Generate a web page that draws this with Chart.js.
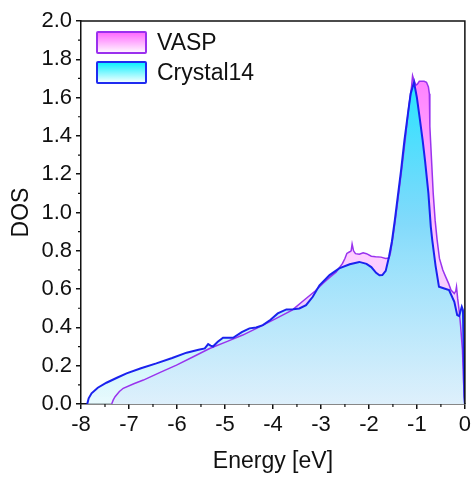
<!DOCTYPE html>
<html lang="en">
<head>
  <meta charset="UTF-8">
  <title>DOS VASP vs Crystal14</title>
  <script src="https://cdn.jsdelivr.net/npm/chart.js"></script>
  <style>
    body { margin: 0; background: #fff; }
    .wrap { position: relative; width: 474px; height: 477px; }
    .legend { position: absolute; left: 96px; top: 31px; font-family: "Liberation Sans", Arial, sans-serif; font-size: 23px; color: #111; }
    .legend .row { position: relative; height: 30px; line-height: 23px; }
    .legend .box { position: absolute; left: 0; top: 0; width: 47px; height: 19px; border: 2px solid; border-radius: 2px; }
    .legend .lbl { position: absolute; left: 61px; top: 0; white-space: nowrap; }
    .box.vasp { border-color: #9b30ee; background: linear-gradient(#ff6cff, #fff4ff); }
    .box.crys { border-color: #1f2bf0; background: linear-gradient(#10f0ff, #f2ffff); }
  </style>
</head>
<body>
  <div class="wrap">
    <canvas id="dosChart"></canvas>
    <!-- legend sits inside the plot, top left -->
    <div class="legend">
      <div class="row"><div class="box vasp"></div><span class="lbl">VASP</span></div>
      <div class="row"><div class="box crys"></div><span class="lbl">Crystal14</span></div>
    </div>
  </div>

  <script>
    // Crystal14 DOS
    const crysEnergy = [-7.87, -7.84, -7.78, -7.65, -7.47, -7.25, -7.05, -6.75, -6.43, -6.1, -5.8, -5.55, -5.42, -5.35, -5.3, -5.25,
      -5.15, -5.04, -4.83, -4.65, -4.49, -4.35, -4.21, -4.05, -3.9, -3.72, -3.58, -3.45, -3.31, -3.17, -3.03, -2.82, -2.62,
      -2.4, -2.2, -2.05, -1.95, -1.85, -1.78, -1.72, -1.65, -1.58, -1.52, -1.46, -1.4, -1.33, -1.26, -1.19, -1.13, -1.06,
      -1.0, -0.94, -0.88, -0.83, -0.76, -0.71, -0.68, -0.61, -0.54, -0.43, -0.33, -0.22, -0.16, -0.12, -0.065, -0.04,
      -0.02, -0.01, 0];
    const crysDos = [0, 0.03, 0.056, 0.085, 0.111, 0.137, 0.16, 0.187, 0.212, 0.24, 0.268, 0.283, 0.29, 0.313, 0.305, 0.3,
      0.325, 0.346, 0.346, 0.375, 0.395, 0.4, 0.412, 0.44, 0.473, 0.494, 0.495, 0.499, 0.516, 0.56, 0.62, 0.673, 0.708,
      0.73, 0.742, 0.732, 0.715, 0.685, 0.672, 0.673, 0.695, 0.77, 0.85, 0.96, 1.08, 1.22, 1.377, 1.51, 1.62, 1.68,
      1.6, 1.49, 1.377, 1.27, 1.1, 0.925, 0.856, 0.72, 0.612, 0.603, 0.595, 0.534, 0.464, 0.459, 0.508, 0.49,
      0.195, 0.04, 0];

    // VASP DOS
    const vaspEnergy = [-7.36, -7.33, -7.29, -7.2, -7.12, -6.9, -6.7, -6.35, -6.01, -5.65, -5.32, -4.95, -4.63, -4.3, -3.93,
      -3.6, -3.31, -3.12, -2.96, -2.8, -2.68, -2.55, -2.5, -2.46, -2.4, -2.37, -2.35, -2.32, -2.28, -2.2, -2.12, -2.05,
      -1.95, -1.86, -1.75, -1.65, -1.58, -1.55, -1.5, -1.44, -1.38, -1.31, -1.24, -1.17, -1.11, -1.09, -1.06, -1.02,
      -0.99, -0.95, -0.85, -0.8, -0.76, -0.74, -0.73, -0.71, -0.69, -0.66, -0.62, -0.58, -0.53, -0.46, -0.4, -0.34,
      -0.29, -0.22, -0.19, -0.175, -0.15, -0.12, -0.09, -0.05, -0.03, -0.01, 0];
    const vaspDos = [0, 0.02, 0.038, 0.065, 0.082, 0.106, 0.125, 0.165, 0.203, 0.248, 0.29, 0.327, 0.36, 0.4, 0.447,
      0.49, 0.551, 0.59, 0.63, 0.665, 0.69, 0.734, 0.76, 0.786, 0.795, 0.8, 0.835, 0.8, 0.785, 0.782, 0.79, 0.785,
      0.772, 0.769, 0.767, 0.76, 0.762, 0.79, 0.87, 0.98, 1.1, 1.24, 1.39, 1.55, 1.66, 1.715, 1.69, 1.665,
      1.67, 1.685, 1.685, 1.68, 1.655, 1.62, 1.45, 1.35, 1.25, 1.1, 0.96, 0.86, 0.76, 0.7, 0.664, 0.63,
      0.595, 0.577, 0.59, 0.612, 0.55, 0.49, 0.41, 0.28, 0.125, 0.03, 0];

    const seriesNames = ["Crystal14", "VASP"];
    const xMin = -8, xMax = 0, xStep = 1;
    const yMin = 0, yMax = 2, yStep = 0.2;

    const FONT = '"Liberation Sans", Arial, sans-serif';

    function toPoints(xs, ys) {
      return xs.map((x, i) => ({ x: x, y: ys[i] }));
    }

    // vertical gradient between a DOS value and zero, built on the y scale
    function vGradient(topVal, stops) {
      return function (ctx) {
        const chart = ctx.chart;
        if (!chart.chartArea) return null;
        const y = chart.scales.y;
        const g = chart.ctx.createLinearGradient(0, y.getPixelForValue(topVal), 0, y.getPixelForValue(0));
        stops.forEach(s => g.addColorStop(s[0], s[1]));
        return g;
      };
    }

    // box frame + minor ticks
    const framePlugin = {
      id: "frame",
      afterDraw(chart) {
        const { ctx, chartArea: a, scales } = chart;
        ctx.save();
        ctx.strokeStyle = "#111";
        ctx.lineWidth = 1.5;
        ctx.beginPath();
        ctx.moveTo(a.left, a.top);
        ctx.lineTo(a.right, a.top);
        ctx.lineTo(a.right, a.bottom);
        ctx.stroke();
        ctx.lineWidth = 1.2;
        ctx.beginPath();
        for (let v = xMin + 0.5; v < xMax; v += 1) {
          const px = scales.x.getPixelForValue(v);
          ctx.moveTo(px, a.bottom);
          ctx.lineTo(px, a.bottom + 3);
        }
        for (let v = yMin + 0.1; v < yMax; v += 0.2) {
          const py = scales.y.getPixelForValue(v);
          ctx.moveTo(a.left, py);
          ctx.lineTo(a.left - 3, py);
        }
        ctx.stroke();
        ctx.restore();
      }
    };

    new Chart(document.getElementById("dosChart"), {
      type: "line",
      data: {
        datasets: [
          {
            label: seriesNames[0],
            data: toPoints(crysEnergy, crysDos),
            borderColor: "#1a22ee",
            borderWidth: 2,
            fill: "origin",
            backgroundColor: vGradient(1.7, [
              [0, "rgba(25,235,255,0.95)"],
              [0.45, "rgba(100,225,250,0.8)"],
              [1, "rgba(224,248,252,0.75)"]
            ])
          },
          {
            label: seriesNames[1],
            data: toPoints(vaspEnergy, vaspDos),
            borderColor: "#9933ee",
            borderWidth: 1.5,
            fill: "origin",
            backgroundColor: vGradient(1.72, [
              [0, "rgb(255,128,255)"],
              [0.55, "rgb(255,205,255)"],
              [1, "rgb(215,215,250)"]
            ])
          }
        ]
      },
      options: {
        responsive: true,
        maintainAspectRatio: false,
        animation: false,
        layout: { padding: { top: 21, right: 8, left: 0, bottom: 0 } },
        elements: {
          point: { radius: 0 },
          line: { tension: 0 }
        },
        plugins: {
          legend: { display: false },
          tooltip: { enabled: false },
          filler: { drawTime: "beforeDatasetsDraw" }
        },
        scales: {
          x: {
            type: "linear",
            min: xMin,
            max: xMax,
            afterFit(scale) { scale.height = 73; },
            ticks: {
              stepSize: xStep,
              color: "#111",
              padding: 3,
              maxRotation: 0,
              font: { family: FONT, size: 22 },
              callback: v => String(v)
            },
            grid: { drawOnChartArea: false, drawTicks: true, tickLength: 5, tickColor: "#111", lineWidth: 1.5 },
            border: { display: true, color: "#111", width: 1.5 },
            title: { display: true, text: "Energy [eV]", color: "#111", font: { family: FONT, size: 23 }, padding: { top: 0, bottom: 2 } }
          },
          y: {
            min: yMin,
            max: yMax,
            afterFit(scale) { scale.width = 81; },
            ticks: {
              stepSize: yStep,
              color: "#111",
              padding: 4,
              font: { family: FONT, size: 22 },
              callback: v => v.toFixed(1)
            },
            grid: { drawOnChartArea: false, drawTicks: true, tickLength: 5, tickColor: "#111", lineWidth: 1.5 },
            border: { display: true, color: "#111", width: 1.5 },
            title: { display: true, text: "DOS", color: "#111", font: { family: FONT, size: 23 }, padding: { top: 8, bottom: 0 } }
          }
        }
      },
      plugins: [framePlugin]
    });
  </script>
</body>
</html>
